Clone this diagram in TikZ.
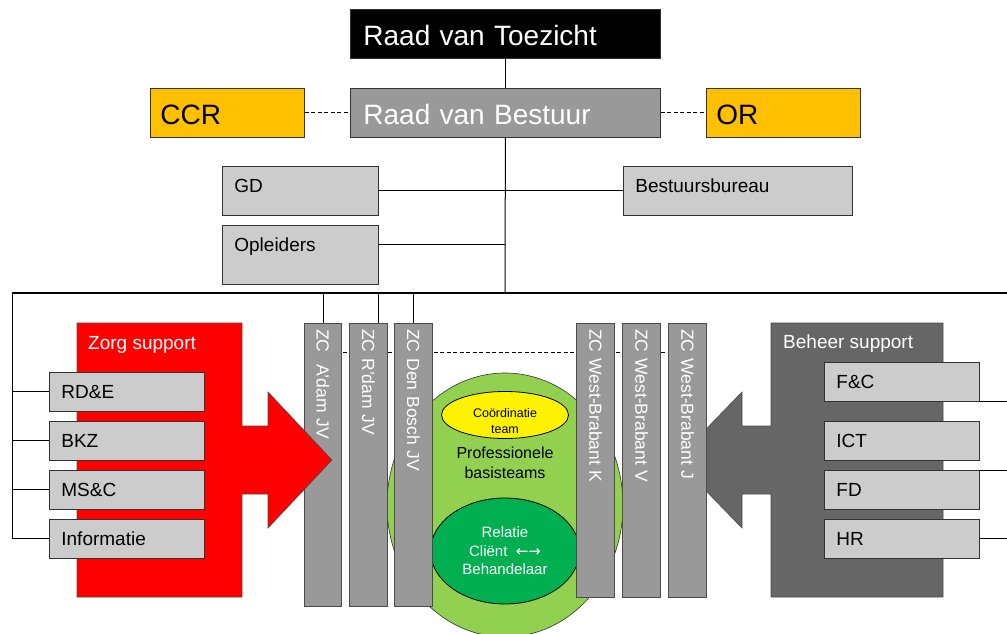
\documentclass[tikz,border=0pt]{standalone}
\usepackage{fontspec}
\setmainfont{Liberation Sans}
\newfontfamily\arrowfont{DejaVu Sans}
\usetikzlibrary{shapes.geometric,backgrounds}
\definecolor{rvbgray}{HTML}{999999}
\definecolor{unitgray}{HTML}{CCCCCC}
\definecolor{advorange}{HTML}{FFC000}
\definecolor{beheergray}{HTML}{666666}
\definecolor{zorgred}{HTML}{FF0000}
\definecolor{basisgreen}{HTML}{92D050}
\definecolor{relgreen}{HTML}{00B050}
\tikzset{
  box/.style={draw=black!80, line width=0.8pt, anchor=north west, align=left, inner ysep=0pt},
  headbox/.style={box, text width=284pt, inner xsep=13pt, text height=36pt, text depth=13pt,
    font=\fontsize{28}{32}\selectfont},
  advbox/.style={headbox, fill=advorange, text width=134pt, inner xsep=10pt},
  staffbox/.style={box, fill=unitgray, inner xsep=12pt, text height=26pt,
    font=\fontsize{19}{22}\selectfont},
  unitbox/.style={box, fill=unitgray, text width=131pt, inner xsep=12pt, text height=26pt,
    text depth=13pt, font=\fontsize{19}{22}\selectfont},
  column/.style={draw=black!70, line width=0.6pt, fill=rvbgray, text=white, rotate=-90,
    anchor=west, align=left, inner xsep=6pt, minimum height=37.5pt,
    font=\fontsize{17.5}{20}\selectfont},
  support/.style={draw=black!70, line width=0.6pt},
  supportlbl/.style={anchor=base west, inner sep=0pt, text=white, font=\fontsize{19}{22}\selectfont},
  conn/.style={line width=1pt},
  advline/.style={line width=1pt, dash pattern=on 4pt off 2.5pt},
}
\begin{document}
\begin{tikzpicture}[x=1pt,y=-1pt]
  \useasboundingbox (0,0) rectangle (1007,634);
  % top management
  \node[headbox, fill=black, text=white] (rvt) at (350,9) {Raad van Toezicht};
  \node[headbox, fill=rvbgray, text=white] (rvb) at (350,88) {Raad van Bestuur};
  \node[advbox] (ccr) at (150,88) {CCR};
  \node[advbox] (or) at (706,88) {OR};
  \node[staffbox, text width=132pt, text depth=23pt] (gd) at (222,166) {GD};
  \node[staffbox, text width=132pt, text depth=33pt] (opl) at (222,225) {Opleiders};
  \node[staffbox, text width=205pt, text depth=23pt] (bb) at (623,166) {Bestuursbureau};
  % basisteams
  \node[ellipse, draw=black!80, line width=0.6pt, fill=basisgreen, minimum width=236pt,
    minimum height=264pt, inner sep=0pt] (basis) at (505,505) {};
  \node[ellipse, draw=black, line width=0.8pt, fill=yellow, minimum width=127pt,
    minimum height=47pt, inner sep=0pt] (coord) at (505,415) {};
  \node[align=center, font=\fontsize{12.5}{16}\selectfont] (coordlbl) at (505,421)
    {Coördinatie\\team};
  \node[align=center, font=\fontsize{16}{20}\selectfont] (pbt) at (505,463)
    {Professionele\\basisteams};
  \node[ellipse, draw=black, line width=0.8pt, fill=relgreen, text=white, minimum width=149pt,
    minimum height=106pt, inner sep=0pt, align=center,
    font=\fontsize{15}{18.5}\selectfont] (rel) at (505,551)
    {Relatie\\Cliënt \ {\arrowfont ←→}\\Behandelaar};
  % zorgcentra
  \node[column, text width=271pt] (adam) at (323,323) {ZC\ \ A'dam JV};
  \node[column, text width=271pt] (rdam) at (368.5,323) {ZC R'dam JV};
  \node[column, text width=271pt] (bosch) at (413.5,323) {ZC Den Bosch JV};
  \node[column, text width=262pt] (wbk) at (595.5,323) {ZC West-Brabant K};
  \node[column, text width=262pt] (wbv) at (641.5,323) {ZC West-Brabant V};
  \node[column, text width=262pt] (wbj) at (687.5,323) {ZC West-Brabant J};
  % support arrows
  \filldraw[support, fill=zorgred] (77,323) -- (242,323) -- (242,426) -- (268,426)
    -- (268,392) -- (332,460) -- (268,528) -- (268,494) -- (242,494) -- (242,597)
    -- (77,597) -- cycle;
  \node[supportlbl] (zorg) at (88,349) {Zorg support};
  \begin{scope}[on background layer]
    \filldraw[support, fill=beheergray] (943,323) -- (771,323) -- (771,426) -- (742,426)
      -- (742,392) -- (676,460) -- (742,528) -- (742,494) -- (771,494) -- (771,597)
      -- (943,597) -- cycle;
  \end{scope}
  \node[supportlbl] (beheer) at (783,348) {Beheer support};
  \node[unitbox] (rde) at (49,372) {RD\&E};
  \node[unitbox] (bkz) at (49,421) {BKZ};
  \node[unitbox] (msc) at (49,470) {MS\&C};
  \node[unitbox] (info) at (49,519) {Informatie};
  \node[unitbox] (fc) at (824,362) {F\&C};
  \node[unitbox] (ict) at (824,421) {ICT};
  \node[unitbox] (fd) at (824,470) {FD};
  \node[unitbox] (hr) at (824,519) {HR};
  % connectors
  \begin{scope}[on background layer]
    \coordinate (hub) at (505,293);
    \coordinate (barL) at (12,293);
    \coordinate (barR) at (1007,293);
    \coordinate (oplj) at (505,244);
    \coordinate (dashy) at (0,352);
    \draw[conn] (rvt.south) -- (rvb.north);
    \draw[conn] (rvb.south) -- (hub);
    \draw[advline] (ccr.east) -- (rvb.west);
    \draw[advline] (rvb.east) -- (or.west);
    \draw[conn] (gd.east) -- (bb.west);
    \draw[conn] (oplj -| opl.east) -- (oplj);
    \draw[conn, line width=1.3pt] (barL) -- (barR);
    \draw[conn] (barL) |- (info.west);
    \foreach \u in {rde,bkz,msc}
      \draw[conn] (barL |- \u.west) -- (\u.west);
    \draw[conn] (adam.west) -- (adam.west |- barL);
    \draw[conn] (rdam.west -| opl.east) -- (opl.east |- barL);
    \draw[conn] (bosch.west) -- (bosch.west |- barL);
    \draw[advline] (adam.center |- dashy) -- (wbj.center |- dashy);
    \draw[conn] (fc.south east) -- (fc.south east -| barR);
    \draw[conn] (fd.north east) -- (fd.north east -| barR);
    \draw[conn] (hr.east) -- (hr.east -| barR);
  \end{scope}
\end{tikzpicture}
\end{document}
